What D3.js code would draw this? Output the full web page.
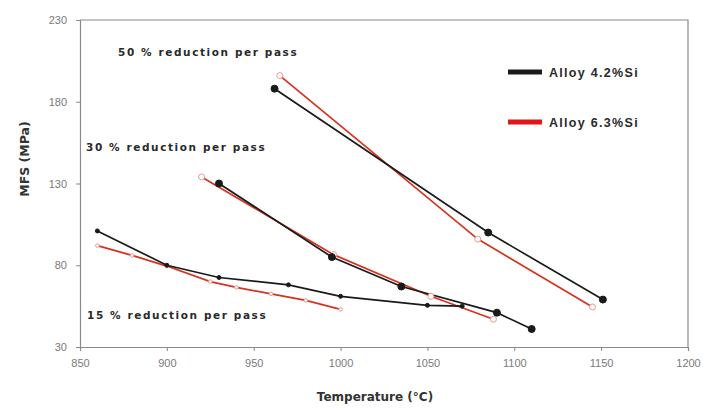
<!DOCTYPE html>
<html>
<head>
<meta charset="utf-8">
<script src="https://cdn.jsdelivr.net/npm/d3@7"></script>
<style>
  html, body { margin: 0; padding: 0; background: #fff; }
  svg { display: block; }
</style>
</head>
<body>
<svg id="chart" width="703" height="408"></svg>
<script>
// Mean flow stress vs. pass temperature, two alloys, three reductions per pass
const xTicks = [850, 900, 950, 1000, 1050, 1100, 1150, 1200];
const yTicks = [30, 80, 130, 180, 230];

// Alloy 4.2%Si (black)
const a42_r50 = [[962, 188], [1085, 100], [1151, 59]];
const a42_r30 = [[930, 130], [995, 85], [1035, 67], [1090, 51], [1110, 41]];
const a42_r15 = [[860, 101], [900, 80], [930, 72.5], [970, 68], [1000, 61], [1050, 55.5], [1070, 55]];

// Alloy 6.3%Si (red)
const a63_r50 = [[965, 196], [1079, 96], [1145, 54.5]];
const a63_r30 = [[920, 134], [996, 86.5], [1052, 61], [1088, 47]];
const a63_r15 = [[860, 92], [880, 86], [900, 79.5], [925, 70], [940, 66.5], [960, 62.5], [980, 58.5], [1000, 53]];

const seriesNames = ["Alloy 4.2%Si", "Alloy 6.3%Si"];
const passLabels = ["50 % reduction per pass", "30 % reduction per pass", "15 % reduction per pass"];

const svg = d3.select("#chart");
const x = d3.scaleLinear().domain([850, 1200]).range([80, 688]);
const y = d3.scaleLinear().domain([30, 230]).range([347, 20]);

const axisColor = "#8a8a8a";
const labelColor = "#7a7a7a";

// frame (top and right edges)
svg.append("path")
  .attr("d", `M${x(850)},${y(230)}H${x(1200)}V${y(30)}`)
  .attr("fill", "none").attr("stroke", axisColor).attr("stroke-width", 1.2);

// x axis
const gx = svg.append("g").attr("transform", `translate(0,${y(30)})`)
  .call(d3.axisBottom(x).tickValues(xTicks).tickSize(4).tickPadding(8).tickFormat(d3.format("d")));
// y axis
const gy = svg.append("g").attr("transform", `translate(${x(850)},0)`)
  .call(d3.axisLeft(y).tickValues(yTicks).tickSize(4).tickPadding(9).tickFormat(d3.format("d")));

[gx, gy].forEach(g => {
  g.select(".domain").attr("stroke", axisColor).attr("stroke-width", 1.2);
  g.selectAll(".tick line").attr("stroke", axisColor);
  g.selectAll(".tick text").attr("fill", labelColor)
    .style("font-family", "'Liberation Sans', Arial, sans-serif").style("font-size", "11px");
});

// axis titles
const titleFont = "'DejaVu Sans', Verdana, sans-serif";
svg.append("text")
  .attr("x", 375).attr("y", 401).attr("text-anchor", "middle")
  .style("font-family", titleFont).style("font-weight", "bold")
  .style("font-size", "12px").attr("fill", "#333")
  .text("Temperature (°C)");
svg.append("text")
  .attr("transform", "translate(29,159) rotate(-90)").attr("text-anchor", "middle")
  .style("font-family", titleFont).style("font-weight", "bold")
  .style("font-size", "12.5px").attr("fill", "#333")
  .text("MFS (MPa)");

// lines
const line = d3.line().x(d => x(d[0])).y(d => y(d[1]));
const blackCol = "#1a1a1a";
const redCol = "#d8311f";

const sets = [
  { data: a63_r50, color: redCol, alloy: 1, r: 3 },
  { data: a63_r30, color: redCol, alloy: 1, r: 3 },
  { data: a63_r15, color: redCol, alloy: 1, r: 1.8 },
  { data: a42_r50, color: blackCol, alloy: 0, r: 3.5 },
  { data: a42_r30, color: blackCol, alloy: 0, r: 3.5 },
  { data: a42_r15, color: blackCol, alloy: 0, r: 2 }
];

sets.forEach(s => {
  svg.append("path").datum(s.data)
    .attr("d", line).attr("fill", "none")
    .attr("stroke", s.color).attr("stroke-width", 1.7);
});
sets.forEach(s => {
  svg.selectAll(null).data(s.data).enter().append("circle")
    .attr("cx", d => x(d[0])).attr("cy", d => y(d[1])).attr("r", s.r)
    .attr("fill", s.alloy === 0 ? blackCol : "#fff")
    .attr("stroke", s.alloy === 0 ? blackCol : "#e89a90")
    .attr("stroke-width", 1);
});

// reduction labels
const passPos = [[118, 56], [86, 151], [87, 319]];
passLabels.forEach((t, i) => {
  svg.append("text")
    .attr("x", passPos[i][0]).attr("y", passPos[i][1])
    .style("font-family", titleFont).style("font-weight", "bold")
    .style("font-size", "10.5px").style("letter-spacing", "1.6px").attr("fill", "#2a2a2a")
    .text(t);
});

// legend
const legendColors = [blackCol, "#e3141a"];
const legendY = [72, 122];
seriesNames.forEach((n, i) => {
  svg.append("rect").attr("x", 508).attr("y", legendY[i] - 2.5).attr("width", 34).attr("height", 5)
    .attr("fill", legendColors[i]);
  svg.append("text").attr("x", 549).attr("y", legendY[i] + 4.5)
    .style("font-family", "'Liberation Sans', Arial, sans-serif").style("font-weight", "bold")
    .style("font-size", "12.5px").style("letter-spacing", "1.3px").attr("fill", "#2a2a2a")
    .text(n);
});
</script>
</body>
</html>
